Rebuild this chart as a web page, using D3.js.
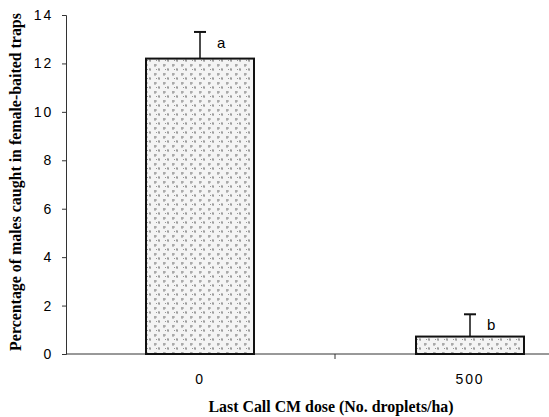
<!DOCTYPE html>
<html><head><meta charset="utf-8">
<script src="https://cdn.jsdelivr.net/npm/d3@7"></script>
<style>body{margin:0;background:#fff}svg{display:block}</style>
</head><body>
<script>
const categories = ["0", "500"];
const means = [12.2, 0.72];
const errors = [1.1, 0.92];
const letters = ["a", "b"];
const yTicks = [0, 2, 4, 6, 8, 10, 12, 14];

const W = 549, H = 417;
const svg = d3.select("body").append("svg").attr("width", W).attr("height", H);

const defs = svg.append("defs");
const pat = defs.append("pattern").attr("id", "stip").attr("patternUnits", "userSpaceOnUse")
  .attr("width", 9).attr("height", 9);
pat.append("rect").attr("width", 9).attr("height", 9).attr("fill", "#f4f4f4");
pat.append("path").attr("d", "M1,2 l3,0 M2,1 l0,3 M5,6 l2,1 M6,5 l0,3 M3,6 l1,1")
  .attr("stroke", "#8a8a8a").attr("stroke-width", 0.9).attr("fill", "none");

const x = d3.scaleBand().domain(categories).range([65, 605]).paddingInner(0.6).paddingOuter(0.3);
const y = d3.scaleLinear().domain([0, 14]).range([354, 15]);

const tickFont = "Liberation Sans, Arial, sans-serif";

// x axis
svg.append("line").attr("x1", 66).attr("x2", W).attr("y1", y(0)).attr("y2", y(0))
  .attr("stroke", "#333").attr("stroke-width", 1);
svg.append("line").attr("x1", x.step() + 65).attr("x2", x.step() + 65)
  .attr("y1", y(0)).attr("y2", y(0) + 5).attr("stroke", "#333");
svg.selectAll(".xl").data(categories).join("text")
  .attr("x", d => x(d) + x.bandwidth() / 2).attr("y", 384)
  .attr("text-anchor", "middle").attr("font-family", tickFont)
  .attr("font-size", 14).attr("letter-spacing", 1.8).text(d => d);

// y axis
const yAxis = d3.axisLeft(y).tickValues(yTicks).tickSize(4).tickFormat(d3.format("d"));
const ga = svg.append("g").attr("transform", "translate(66,0)").call(yAxis);
ga.select(".domain").attr("stroke", "#333");
ga.selectAll(".tick line").attr("stroke", "#333");
ga.selectAll(".tick text").attr("font-family", tickFont)
  .attr("font-size", 14).attr("letter-spacing", 1.8).attr("fill", "#000").attr("x", -13);

// bars
svg.selectAll(".bar").data(means).join("rect")
  .attr("x", (d, i) => x(categories[i])).attr("width", x.bandwidth())
  .attr("y", d => y(d)).attr("height", d => y(0) - y(d))
  .attr("fill", "url(#stip)").attr("stroke", "#111").attr("stroke-width", 2);

// error bars
const eb = svg.selectAll(".eb").data(means).join("g");
eb.append("line")
  .attr("x1", (d, i) => x(categories[i]) + x.bandwidth() / 2)
  .attr("x2", (d, i) => x(categories[i]) + x.bandwidth() / 2)
  .attr("y1", d => y(d)).attr("y2", (d, i) => y(d + errors[i]))
  .attr("stroke", "#111").attr("stroke-width", 1.5);
eb.append("line")
  .attr("x1", (d, i) => x(categories[i]) + x.bandwidth() / 2 - 6)
  .attr("x2", (d, i) => x(categories[i]) + x.bandwidth() / 2 + 6)
  .attr("y1", (d, i) => y(d + errors[i])).attr("y2", (d, i) => y(d + errors[i]))
  .attr("stroke", "#111").attr("stroke-width", 2);
eb.append("text")
  .attr("x", (d, i) => x(categories[i]) + x.bandwidth() / 2 + 17)
  .attr("y", (d, i) => y(d + errors[i]) + 16)
  .attr("font-family", tickFont).attr("font-size", 15)
  .text((d, i) => letters[i]);

// titles
svg.append("text").attr("transform", "translate(21,182) rotate(-90)")
  .attr("text-anchor", "middle").attr("font-family", "Liberation Serif, Times New Roman, serif")
  .attr("font-weight", "bold").attr("font-size", 15.9)
  .text("Percentage of males caught in female-baited traps");
svg.append("text").attr("x", 331).attr("y", 412)
  .attr("text-anchor", "middle").attr("font-family", "Liberation Serif, Times New Roman, serif")
  .attr("font-weight", "bold").attr("font-size", 15.9)
  .text("Last Call CM dose (No. droplets/ha)");
</script>
</body></html>
